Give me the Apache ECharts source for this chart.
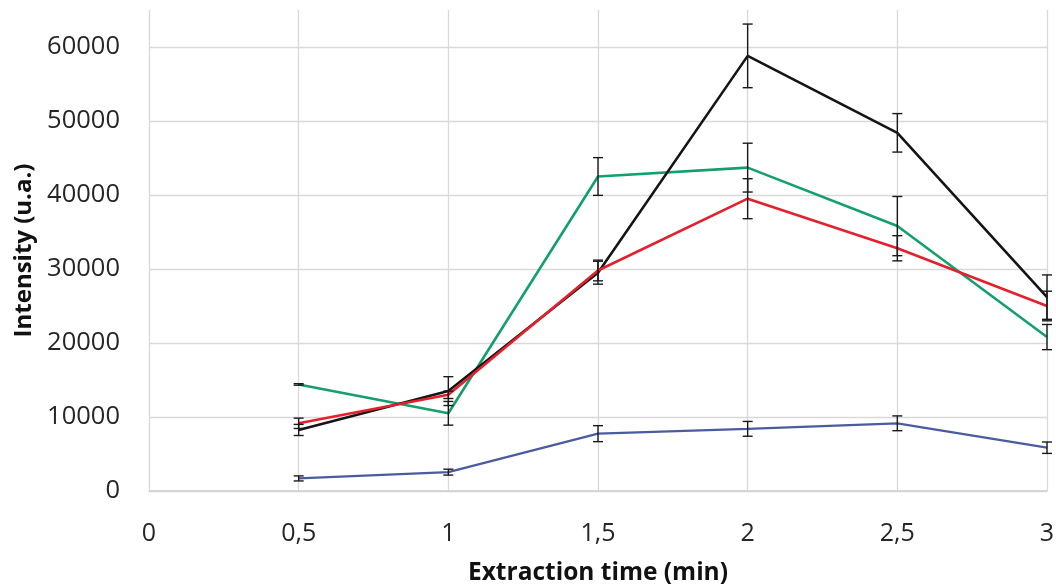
<!DOCTYPE html>
<html>
<head>
<meta charset="utf-8">
<script src="https://cdn.jsdelivr.net/npm/echarts@6/dist/echarts.min.js"></script>
<style>
  html, body { margin: 0; padding: 0; background: #fff; }
  #chart { width: 1056px; height: 585px; }
</style>
</head>
<body>
<div id="chart"></div>
<script>
// data
const xValues = [0.5, 1, 1.5, 2, 2.5, 3];
const xTickLabels = ['0', '0,5', '1', '1,5', '2', '2,5', '3'];

const blackMean = [8250, 13500, 29500, 58800, 48400, 26200];
const blackErr = [750, 1950, 1550, 4300, 2600, 3000];
const redMean = [9150, 13000, 29800, 39500, 32800, 25000];
const redErr = [700, 500, 1400, 2700, 1700, 2000];
const greenMean = [14400, 10500, 42500, 43700, 35800, 20800];
const greenErr = [100, 1600, 2550, 3300, 4000, 1700];
const blueMean = [1700, 2550, 7750, 8400, 9150, 5850];
const blueErr = [340, 400, 1080, 1000, 1000, 770];

const chart = echarts.init(document.getElementById('chart'));

// pairs for the line series
function points(means) {
  return xValues.map((x, i) => [x, means[i]]);
}
// [x, low, high] for the error bars
function bars(means, errs) {
  return xValues.map((x, i) => [x, means[i] - errs[i], means[i] + errs[i]]);
}

function renderErrorBar(params, api) {
  const x = api.value(0);
  const top = api.coord([x, api.value(2)]);
  const bot = api.coord([x, api.value(1)]);
  const half = 5;
  const style = { stroke: '#1a1a1a', lineWidth: 1.4 };
  return {
    type: 'group',
    children: [
      { type: 'line', shape: { x1: top[0], y1: top[1], x2: bot[0], y2: bot[1] }, style: style },
      { type: 'line', shape: { x1: top[0] - half, y1: top[1], x2: top[0] + half, y2: top[1] }, style: style },
      { type: 'line', shape: { x1: bot[0] - half, y1: bot[1], x2: bot[0] + half, y2: bot[1] }, style: style }
    ]
  };
}

function lineSeries(means, color, width) {
  return {
    type: 'line',
    data: points(means),
    symbol: 'none',
    lineStyle: { color: color, width: width },
    z: 2
  };
}
function errSeries(means, errs) {
  return {
    type: 'custom',
    data: bars(means, errs),
    renderItem: renderErrorBar,
    clip: false,
    z: 3
  };
}

const option = {
  animation: false,
  grid: { left: 149, right: 9, top: 10, bottom: 94, outerBoundsMode: 'none' },
  textStyle: { fontFamily: 'Open Sans' },
  xAxis: {
    type: 'value',
    min: 0,
    max: 3,
    interval: 0.5,
    name: 'Extraction time (min)',
    nameLocation: 'middle',
    nameGap: 70,
    nameTextStyle: { fontFamily: 'Open Sans', fontWeight: 'bold', fontSize: 24.5, color: '#111' },
    axisLine: { lineStyle: { color: '#d0d0d0', width: 1.5 } },
    axisTick: { show: false },
    axisLabel: {
      fontFamily: 'Open Sans',
      fontSize: 25,
      color: '#262626',
      margin: 30,
      formatter: v => xTickLabels[Math.round(v * 2)]
    },
    splitLine: { show: true, lineStyle: { color: '#d9d9d9', width: 1.3 } }
  },
  yAxis: {
    type: 'value',
    min: 0,
    max: 65000,
    interval: 10000,
    name: 'Intensity (u.a.)',
    nameLocation: 'middle',
    nameGap: 112,
    nameTextStyle: { fontFamily: 'Open Sans', fontWeight: 'bold', fontSize: 24, color: '#111' },
    axisLine: { show: false },
    axisTick: { show: false },
    axisLabel: {
      fontFamily: 'Open Sans',
      fontSize: 25.5,
      color: '#262626',
      margin: 29,
      showMaxLabel: false,
      formatter: v => String(v)
    },
    splitLine: { show: true, showMaxLine: false, lineStyle: { color: '#d9d9d9', width: 1.3 } }
  },
  series: [
    lineSeries(blueMean, '#4a5c9e', 2.2),
    lineSeries(greenMean, '#12a06c', 2.6),
    lineSeries(blackMean, '#151515', 2.6),
    lineSeries(redMean, '#e3202c', 2.6),
    errSeries(blueMean, blueErr),
    errSeries(greenMean, greenErr),
    errSeries(blackMean, blackErr),
    errSeries(redMean, redErr)
  ]
};

chart.setOption(option);
window.addEventListener('resize', chart.resize);
</script>
</body>
</html>
